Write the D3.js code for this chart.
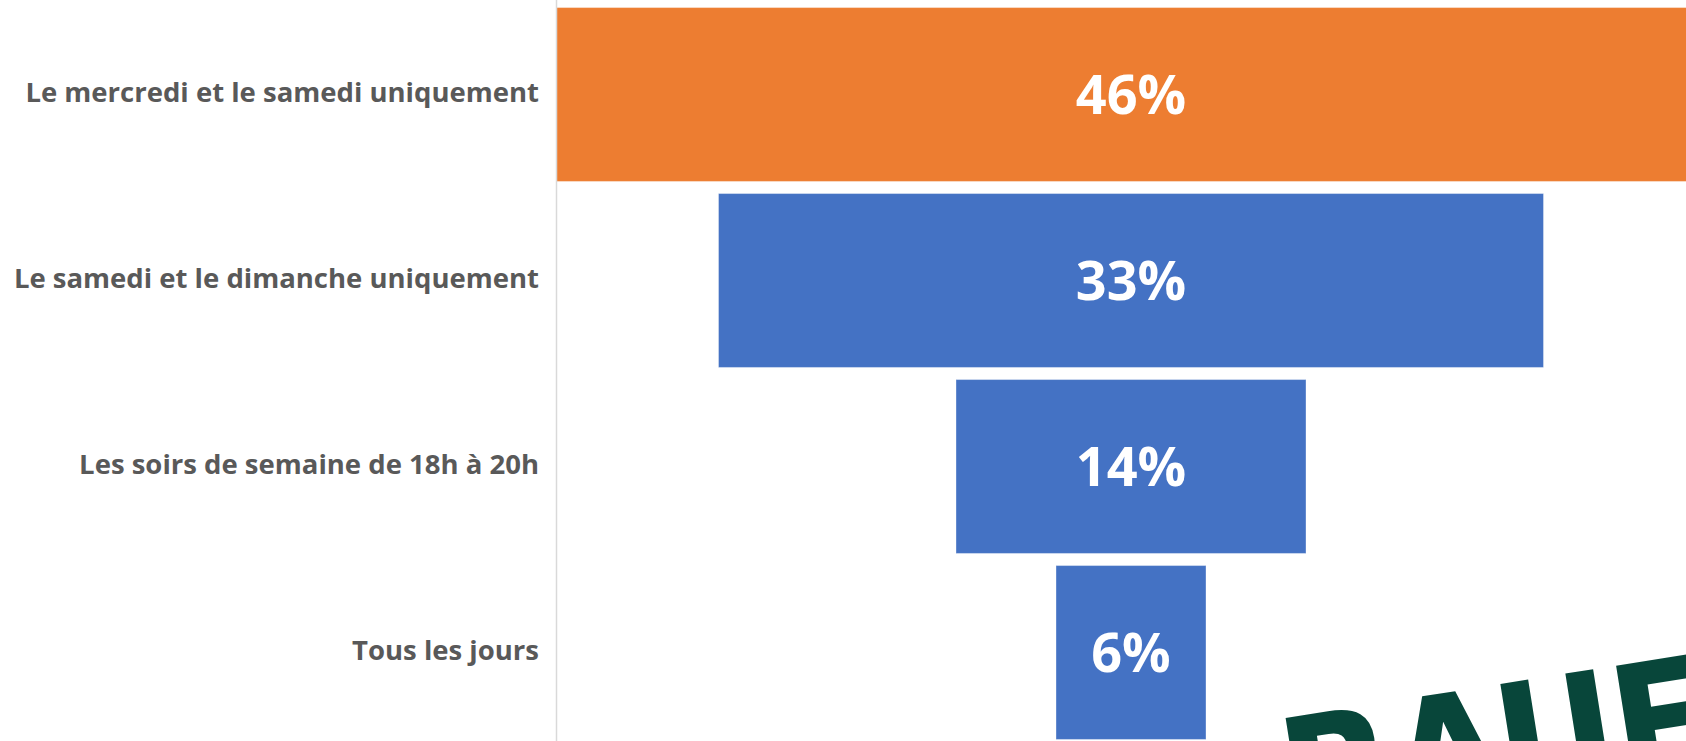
<!DOCTYPE html>
<html>
<head>
<meta charset="utf-8">
<script src="https://cdn.jsdelivr.net/npm/d3@7"></script>
<style>
  html, body { margin: 0; padding: 0; background: #fff; overflow: hidden; }
  svg { display: block; }
</style>
</head>
<body>
<svg id="chart"></svg>
<script>
// funnel data, top to bottom
var categories = [
  "Le mercredi et le samedi uniquement",
  "Le samedi et le dimanche uniquement",
  "Les soirs de semaine de 18h à 20h",
  "Tous les jours"
];
var values = [46, 33, 14, 6];
var highlight = [true, false, false, false];

var W = 1686, H = 741;

var svg = d3.select("#chart")
    .attr("width", W)
    .attr("height", H);

var axisX = 556,
    centerX = axisX + 575;   // funnel centre, top bar starts at the axis

// bar width per value (top bar spills past the right edge, as in the original)
var x = d3.scaleLinear()
    .domain([0, 46])
    .range([0, 1150]);

var y = d3.scaleBand()
    .domain(categories)
    .range([1.5, 745.5])
    .paddingInner(0.065)
    .paddingOuter(0.0325);

var rows = categories.map(function(c, i) {
  return { name: c, value: values[i], hi: highlight[i] };
});

// bars
svg.selectAll(".bar")
  .data(rows)
  .enter().append("rect")
    .attr("class", "bar")
    .attr("x", function(d) { return centerX - x(d.value) / 2; })
    .attr("y", function(d) { return y(d.name); })
    .attr("width", function(d) { return x(d.value); })
    .attr("height", y.bandwidth())
    .style("fill", function(d) { return d.hi ? "#ED7D31" : "#4472C4"; })
    .style("stroke", "#ffffff")
    .style("stroke-opacity", 0.35)
    .style("stroke-width", 1);

// value labels
svg.selectAll(".val")
  .data(rows)
  .enter().append("text")
    .attr("class", "val")
    .attr("x", centerX)
    .attr("y", function(d) { return y(d.name) + y.bandwidth() / 2; })
    .attr("dy", "0.36em")
    .attr("text-anchor", "middle")
    .style("font-family", "'Open Sans', Lato, sans-serif")
    .style("font-weight", "bold")
    .style("font-size", "54px")
    .style("fill", "#ffffff")
    .text(function(d) { return d.value + "%"; });

// vertical category axis line
svg.append("line")
    .attr("x1", axisX + 0.5).attr("x2", axisX + 0.5)
    .attr("y1", 0).attr("y2", H)
    .style("stroke", "#d9d9d9")
    .style("stroke-width", 1.5);

// category labels
svg.selectAll(".cat")
  .data(rows)
  .enter().append("text")
    .attr("class", "cat")
    .attr("x", 539)
    .attr("y", function(d) { return y(d.name) + y.bandwidth() / 2 - 2; })
    .attr("dy", "0.36em")
    .attr("text-anchor", "end")
    .style("font-family", "'Open Sans', Lato, sans-serif")
    .style("font-weight", "bold")
    .style("font-size", "27.5px")
    .style("fill", "#595959")
    .text(function(d) { return d.name; });

// watermark, cut off at the bottom right
svg.append("text")
    .attr("transform", "translate(1272,720) rotate(-9)")
    .attr("y", 121)
    .style("font-family", "'DejaVu Sans Condensed', 'DejaVu Sans', sans-serif")
    .style("font-stretch", "condensed")
    .style("font-weight", "bold")
    .style("font-size", "166px")
    .style("letter-spacing", "-4px")
    .style("fill", "#08463A")
    .text("RAUE");
</script>
</body>
</html>
